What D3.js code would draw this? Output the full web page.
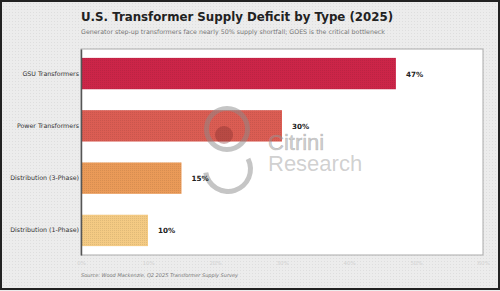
<!DOCTYPE html>
<html><head><meta charset="utf-8">
<script src="https://cdn.jsdelivr.net/npm/d3@7"></script>
<style>html,body{margin:0;padding:0;background:#fff;}svg{display:block;}</style>
</head><body>
<script>
const categories = ["GSU Transformers","Power Transformers","Distribution (3-Phase)","Distribution (1-Phase)"];
const deficit = [47,30,15,10];
const barColors = ["#c9193e","#d9544a","#e9954f","#f3c77c"];
const xTicks = [0,10,20,30,40,50,60];
const title = "U.S. Transformer Supply Deficit by Type (2025)";
const subtitle = "Generator step-up transformers face nearly 50% supply shortfall; GOES is the critical bottleneck";
const source = "Source: Wood Mackenzie, Q2 2025 Transformer Supply Survey";

const W=500,H=291;
const m={left:81,right:17,top:49,bottom:36};
const svg=d3.select("body").append("svg").attr("width",W).attr("height",H);
const defs=svg.append("defs");
const bg=defs.append("pattern").attr("id","bgdots").attr("width",3).attr("height",3).attr("patternUnits","userSpaceOnUse");
bg.append("rect").attr("width",3).attr("height",3).attr("fill","#ececec");
bg.append("rect").attr("width",1).attr("height",1).attr("fill","#dedede");
barColors.forEach((c,i)=>{
  const p=defs.append("pattern").attr("id","bp"+i).attr("width",2).attr("height",2).attr("patternUnits","userSpaceOnUse");
  p.append("rect").attr("width",2).attr("height",2).attr("fill",c);
  p.append("rect").attr("width",1).attr("height",1).attr("fill",d3.color(c).darker(0.25));
});
svg.append("rect").attr("width",W).attr("height",H).attr("fill","url(#bgdots)");
svg.append("rect").attr("x",1).attr("y",1).attr("width",W-2).attr("height",H-3).attr("fill","none").attr("stroke","#222").attr("stroke-width",2);

const x=d3.scaleLinear().domain([0,60]).range([m.left,W-m.right]);
const y=d3.scaleBand().domain(categories).range([m.top,H-m.bottom]).paddingInner(0.4).paddingOuter(0.17);

svg.append("rect").attr("x",x(0)).attr("y",m.top).attr("width",x(60)-x(0)).attr("height",H-m.bottom-m.top)
  .attr("fill","#fff").attr("stroke","#aaa").attr("stroke-width",1);

svg.selectAll("rect.bar").data(deficit).enter().append("rect").attr("class","bar")
  .attr("x",x(0)).attr("y",(d,i)=>y(categories[i])).attr("width",d=>x(d)-x(0)).attr("height",y.bandwidth())
  .attr("fill",(d,i)=>"url(#bp"+i+")").attr("opacity",0.95);

// watermark (on top, translucent)
const wm=svg.append("g");
const wmFill="rgba(140,140,140,0.5)";
wm.append("circle").attr("cx",227).attr("cy",129).attr("r",20.5).attr("fill","none").attr("stroke",wmFill).attr("stroke-width",5);
wm.append("circle").attr("cx",224).attr("cy",135).attr("r",9).attr("fill","rgba(120,40,40,0.35)");
wm.append("path").attr("transform","translate(228,169)")
  .attr("d",d3.arc().innerRadius(20).outerRadius(25).startAngle(-Math.PI*0.55).endAngle(-Math.PI*1.65)())
  .attr("fill",wmFill);
wm.append("text").attr("x",268).attr("y",150).attr("font-family","Liberation Sans, Arial").attr("font-size",22).attr("fill","rgba(150,150,150,0.45)").attr("stroke","rgba(150,150,150,0.45)").attr("stroke-width",0.7).text("Citrini");
wm.append("text").attr("x",268).attr("y",171).attr("font-family","Liberation Sans, Arial").attr("font-size",22).attr("fill","rgba(150,150,150,0.45)").text("Research");

svg.selectAll("text.val").data(deficit).enter().append("text").attr("class","val")
  .attr("x",d=>x(d)+10).attr("y",(d,i)=>y(categories[i])+y.bandwidth()/2+3)
  .attr("font-family","DejaVu Sans").attr("font-size",7.2).attr("font-weight","bold").attr("fill","#222")
  .text(d=>d+"%");

const yAx=svg.append("g").attr("transform",`translate(${x(0)},0)`).call(d3.axisLeft(y).tickSize(0).tickPadding(2));
yAx.select(".domain").attr("stroke","#555").attr("stroke-width",1.5);
yAx.selectAll("text").attr("font-family","DejaVu Sans").attr("font-size",6.3).attr("fill","#333");

const xAx=svg.append("g").attr("transform",`translate(0,${H-m.bottom})`).call(d3.axisBottom(x).tickValues(xTicks).tickFormat(d=>d+"%").tickSize(0).tickPadding(6));
xAx.select(".domain").remove();
xAx.selectAll("text").attr("font-family","DejaVu Sans").attr("font-size",5.5).attr("fill","#d2d2d2");

svg.append("text").attr("x",81).attr("y",20.5).attr("font-family","DejaVu Sans").attr("font-weight","bold").attr("font-size",11.8).attr("fill","#222").text(title);
svg.append("text").attr("x",81).attr("y",34.3).attr("font-family","DejaVu Sans").attr("font-size",6.3).attr("fill","#777").text(subtitle);
svg.append("text").attr("x",81).attr("y",277).attr("font-family","DejaVu Sans").attr("font-style","italic").attr("font-size",5.0).attr("fill","#777").text(source);
</script>
</body></html>
